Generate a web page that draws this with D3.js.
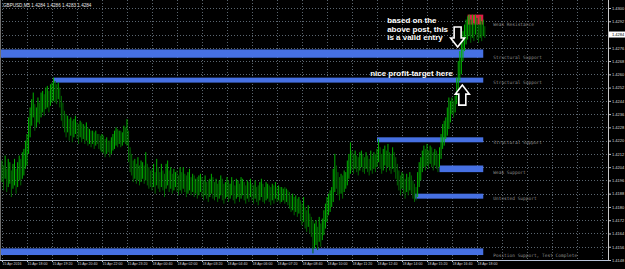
<!DOCTYPE html>
<html>
<head>
<meta charset="utf-8">
<script src="https://cdn.jsdelivr.net/npm/d3@7"></script>
<style>
    html, body { margin: 0; padding: 0; background: #000; }
    #priceChart { width: 625px; height: 269px; }
</style>
</head>
<body>
<div id="priceChart"></div>
<script>
// values (GBPUSD M5, 15-18 Apr 2016)
var symbolTitle = "GBPUSD,M5  1.4284 1.4286 1.4283 1.4284";
var bidPrice = 1.4284;

var timeLabels = ["15 Apr 2016", "15 Apr 18:00", "15 Apr 19:20", "15 Apr 20:40", "15 Apr 22:00",
    "15 Apr 23:20", "18 Apr 00:40", "18 Apr 02:00", "18 Apr 03:20", "18 Apr 04:40", "18 Apr 06:00",
    "18 Apr 07:20", "18 Apr 08:40", "18 Apr 10:00", "18 Apr 11:20", "18 Apr 12:40", "18 Apr 14:00",
    "18 Apr 15:20", "18 Apr 16:40", "18 Apr 18:00"];

var priceTicks = [1.4300, 1.4292, 1.4284, 1.4276, 1.4268, 1.4260, 1.4252, 1.4244, 1.4236, 1.4228,
    1.4220, 1.4212, 1.4204, 1.4196, 1.4188, 1.4180, 1.4172, 1.4164, 1.4156, 1.4148];

// bar lows / highs, one per 5 minute bar
var barLows = [
    1.4195,1.4190,1.4197,1.4189,1.4192,1.4194,1.4186,1.4191,1.4193,1.4188,1.4192,1.4196,1.4193,1.4197,1.4199,1.4203,
    1.4205,1.4212,1.4222,1.4229,1.4234,1.4226,1.4228,1.4231,1.4230,1.4234,1.4237,1.4235,1.4239,
    1.4240,1.4237,1.4241,1.4243,1.4244,1.4243,1.4242,1.4245,1.4240,
    1.4232,1.4228,1.4225,1.4222,1.4225,1.4220,1.4223,1.4219,1.4222,1.4224,
    1.4221,1.4218,1.4222,1.4219,1.4221,1.4218,1.4220,1.4217,1.4218,1.4216,
    1.4218,1.4215,1.4217,1.4218,1.4215,1.4214,1.4213,1.4212,1.4210,1.4212,
    1.4213,1.4210,1.4212,1.4214,1.4215,1.4217,1.4216,1.4218,1.4216,1.4217,
    1.4219,1.4218,1.4217,1.4207,1.4201,1.4199,1.4195,1.4197,1.4194,1.4196,
    1.4193,1.4195,1.4197,1.4194,1.4196,1.4193,1.4191,1.4192,
    1.4190,1.4192,1.4188,1.4193,1.4191,1.4189,1.4192,1.4190,1.4186,1.4191,1.4193,1.4189,1.4191,1.4188,1.4190,1.4192,
    1.4189,1.4187,1.4190,1.4188,1.4191,1.4189,1.4186,1.4188,1.4190,1.4187,1.4189,1.4186,1.4188,1.4185,1.4187,1.4189,
    1.4186,1.4184,1.4187,1.4185,1.4183,1.4186,1.4188,1.4185,1.4184,1.4186,1.4183,1.4185,1.4187,1.4184,1.4182,1.4185,
    1.4186,1.4183,1.4185,1.4187,1.4184,1.4182,1.4185,1.4186,1.4183,1.4185,1.4187,1.4184,1.4182,1.4185,1.4183,1.4186,
    1.4184,1.4182,1.4185,1.4183,1.4181,1.4184,1.4186,1.4183,1.4182,1.4184,1.4185,1.4183,1.4181,1.4184,1.4182,1.4185,
    1.4183,1.4184,1.4182,1.4183,1.4184,1.4182,1.4183,1.4181,1.4179,1.4177,1.4178,1.4175,1.4177,1.4174,1.4176,1.4172,
    1.4169,1.4171,1.4167,1.4165,1.4168,1.4164,1.4162,1.4152,1.4155,1.4157,1.4154,1.4159,1.4156,1.4160,1.4163,1.4167,
    1.4171,1.4175,1.4177,1.4180,1.4183,1.4189,1.4191,1.4187,1.4184,1.4188,1.4185,1.4189,1.4191,1.4193,1.4197,1.4200,
    1.4202,1.4200,1.4203,1.4201,1.4199,1.4202,1.4204,1.4201,1.4200,1.4203,1.4201,1.4199,1.4202,1.4200,1.4203,1.4201,
    1.4204,1.4207,1.4203,1.4200,1.4202,1.4205,1.4201,1.4204,1.4202,1.4200,1.4203,1.4201,1.4197,1.4193,1.4190,1.4187,
    1.4191,1.4188,1.4185,1.4189,1.4187,1.4190,1.4188,1.4185,1.4183,1.4184,1.4186,1.4192,1.4196,1.4201,1.4204,1.4202,
    1.4205,1.4203,1.4206,1.4204,1.4202,1.4205,1.4203,1.4201,1.4204,1.4209,1.4215,1.4217,1.4221,1.4223,1.4227,1.4231,
    1.4236,1.4234,1.4237,1.4242,1.4250,1.4256,1.4260,1.4268,1.4274,1.4278,1.4281,1.4283,1.4279,1.4282,1.4280,1.4284,
    1.4281,1.4279,1.4282,1.4280,1.4283,1.4282
];
var barHighs = [
    1.4208,1.4205,1.4211,1.4203,1.4209,1.4207,1.4202,1.4206,1.4209,1.4203,1.4207,1.4211,1.4209,1.4213,1.4215,1.4220,
    1.4224,1.4234,1.4240,1.4245,1.4249,1.4242,1.4240,1.4246,1.4243,1.4249,1.4250,1.4248,1.4252,
    1.4253,1.4250,1.4254,1.4255,1.4258,1.4256,1.4254,1.4255,1.4252,
    1.4247,1.4243,1.4238,1.4236,1.4235,1.4233,1.4234,1.4232,1.4233,1.4235,
    1.4231,1.4230,1.4232,1.4231,1.4230,1.4229,1.4231,1.4228,1.4227,1.4226,
    1.4226,1.4225,1.4226,1.4224,1.4224,1.4223,1.4224,1.4223,1.4221,1.4222,
    1.4220,1.4220,1.4222,1.4224,1.4226,1.4228,1.4227,1.4226,1.4226,1.4225,
    1.4229,1.4228,1.4233,1.4226,1.4216,1.4212,1.4208,1.4209,1.4206,1.4210,
    1.4205,1.4208,1.4207,1.4205,1.4213,1.4206,1.4204,1.4202,
    1.4203,1.4206,1.4201,1.4209,1.4204,1.4201,1.4206,1.4202,1.4200,1.4206,1.4208,1.4202,1.4204,1.4200,1.4203,1.4201,
    1.4202,1.4199,1.4204,1.4201,1.4204,1.4200,1.4199,1.4201,1.4203,1.4198,1.4200,1.4199,1.4197,1.4198,1.4199,1.4200,
    1.4198,1.4196,1.4199,1.4195,1.4196,1.4197,1.4200,1.4198,1.4195,1.4197,1.4194,1.4196,1.4199,1.4197,1.4194,1.4195,
    1.4198,1.4196,1.4194,1.4198,1.4196,1.4193,1.4197,1.4196,1.4194,1.4198,1.4197,1.4195,1.4193,1.4196,1.4195,1.4197,
    1.4194,1.4193,1.4196,1.4192,1.4193,1.4195,1.4197,1.4194,1.4192,1.4195,1.4194,1.4193,1.4192,1.4194,1.4193,1.4195,
    1.4192,1.4193,1.4192,1.4192,1.4191,1.4192,1.4191,1.4190,1.4189,1.4187,1.4188,1.4186,1.4187,1.4185,1.4186,1.4184,
    1.4182,1.4186,1.4180,1.4178,1.4181,1.4176,1.4174,1.4172,1.4170,1.4172,1.4168,1.4174,1.4170,1.4173,1.4178,1.4182,
    1.4186,1.4188,1.4190,1.4192,1.4203,1.4212,1.4205,1.4201,1.4198,1.4200,1.4199,1.4202,1.4201,1.4208,1.4212,1.4219,
    1.4214,1.4212,1.4214,1.4211,1.4210,1.4213,1.4214,1.4212,1.4210,1.4213,1.4211,1.4209,1.4214,1.4211,1.4213,1.4212,
    1.4215,1.4221,1.4216,1.4212,1.4215,1.4217,1.4214,1.4218,1.4213,1.4212,1.4216,1.4213,1.4210,1.4206,1.4202,1.4199,
    1.4201,1.4200,1.4197,1.4200,1.4198,1.4201,1.4199,1.4196,1.4194,1.4192,1.4201,1.4207,1.4210,1.4214,1.4217,1.4215,
    1.4218,1.4214,1.4217,1.4216,1.4213,1.4215,1.4214,1.4212,1.4216,1.4224,1.4230,1.4232,1.4234,1.4240,1.4246,1.4244,
    1.4246,1.4244,1.4247,1.4258,1.4268,1.4274,1.4280,1.4286,1.4290,1.4293,1.4295,1.4296,1.4293,1.4296,1.4291,1.4296,
    1.4294,1.4290,1.4295,1.4292,1.4293,1.4289
];

// support / resistance rectangles drawn on the chart (bar index from..to)
var zoneNames = ["Structural Support", "Structural Support", "Structural Support", "Weak Support",
    "Untested Support", "Position Support, Test Complete", "Weak Resistance"];
var zoneKinds = ["support", "support", "support", "support", "support", "support", "resistance"];
var zoneStart = [-5, 33, 240, 280, 264, -5, 298];
var zoneEnd = [308, 308, 308, 308, 308, 308, 308];
var zoneLow = [1.4270, 1.4255, 1.4219, 1.4201, 1.4185, 1.4151, 1.4290];
var zoneHigh = [1.4275, 1.4258, 1.4222, 1.4205, 1.4188, 1.4155, 1.4296];

// hand written notes and arrows
var noteBlocks = [
    {lines: ["based on the", "above post, this", "is a valid entry"], bar: 246.5, price: 1.42909},
    {lines: ["nice profit-target here"], bar: 235.6, price: 1.42590}
];
var arrowBars = [291.6, 294.6];
var arrowPrices = [1.42765, 1.42535];
var arrowDirs = ["down", "up"];


function TradeChart() {
    var self = this;
    self.init();
}

/**
 * sets up the svg, scales and clip
 */
TradeChart.prototype.init = function () {
    var self = this;

    self.width = 625;
    self.height = 269;
    self.plotRight = 608;
    self.plotBottom = 260;

    self.svg = d3.select("#priceChart")
        .append("svg")
        .attr("width", self.width)
        .attr("height", self.height)
        .style("display", "block")
        .style("background", "#000");

    // 16 bars (80 min) between time labels, 25px apart
    self.xScale = d3.scaleLinear()
        .domain([0, 16])
        .range([2, 27]);

    self.yScale = d3.scaleLinear()
        .domain([1.4148, 1.4300])
        .range([260, 8]);

    self.svg.append("clipPath")
        .attr("id", "plotClip")
        .append("rect")
        .attr("x", 0)
        .attr("y", 0)
        .attr("width", self.plotRight)
        .attr("height", self.plotBottom);
};

TradeChart.prototype.update = function () {
    var self = this;
    var x = self.xScale, y = self.yScale;

    //grid
    var grid = self.svg.append("g").attr("class", "grid");
    var gridBars = d3.range(0, 400, 16).filter(function (d) { return x(d) < self.plotRight; });

    grid.selectAll("line.hgrid")
        .data(priceTicks)
        .enter()
        .append("line")
        .attr("class", "hgrid")
        .attr("x1", 0)
        .attr("x2", self.plotRight)
        .attr("y1", function (d) { return Math.round(y(d)) + 0.5; })
        .attr("y2", function (d) { return Math.round(y(d)) + 0.5; })
        .attr("stroke", "#5b6670")
        .attr("stroke-dasharray", "1,2");

    grid.selectAll("line.vgrid")
        .data(gridBars)
        .enter()
        .append("line")
        .attr("class", "vgrid")
        .attr("x1", function (d) { return Math.round(x(d)) + 0.5; })
        .attr("x2", function (d) { return Math.round(x(d)) + 0.5; })
        .attr("y1", 0)
        .attr("y2", self.plotBottom)
        .attr("stroke", "#5b6670")
        .attr("stroke-dasharray", "1,2");

    var plot = self.svg.append("g").attr("clip-path", "url(#plotClip)");

    //zones
    var zoneIdx = d3.range(zoneNames.length);
    plot.selectAll("rect.zone")
        .data(zoneIdx)
        .enter()
        .append("rect")
        .attr("class", "zone")
        .attr("x", function (i) { return Math.max(0, x(zoneStart[i])); })
        .attr("width", function (i) { return x(zoneEnd[i]) - Math.max(0, x(zoneStart[i])); })
        .attr("y", function (i) { return y(zoneHigh[i]); })
        .attr("height", function (i) { return y(zoneLow[i]) - y(zoneHigh[i]); })
        .attr("fill", function (i) { return zoneKinds[i] === "resistance" ? "#dc1f47" : "#4670e2"; });

    //price bars
    plot.selectAll("line.bar")
        .data(barLows)
        .enter()
        .append("line")
        .attr("class", "bar")
        .attr("x1", function (d, i) { return x(i); })
        .attr("x2", function (d, i) { return x(i); })
        .attr("y1", function (d) { return y(d); })
        .attr("y2", function (d, i) { return y(barHighs[i]); })
        .attr("stroke", function (d, i) {
            if (i === 0) return "#009a00";
            var up = (d + barHighs[i]) >= (barLows[i - 1] + barHighs[i - 1]);
            return up ? "#00b000" : "#006800";
        })
        .attr("stroke-width", 1);

    //zone captions
    self.svg.selectAll("text.zoneLabel")
        .data(zoneIdx)
        .enter()
        .append("text")
        .attr("class", "zoneLabel")
        .attr("x", function (i) { return x(zoneEnd[i]) + 10; })
        .attr("y", function (i) { return y(zoneLow[i]) + 1.5; })
        .attr("fill", "#8e8e8e")
        .style("font-family", "'DejaVu Sans Mono', monospace")
        .style("font-size", "4.5px")
        .text(function (i) { return zoneNames[i]; });

    //arrows
    var arrowPath = function (tx, ty, dir) {
        var s = dir === "down" ? -1 : 1;
        var head = 9, len = 20, hw = 7, sw = 3.5;
        return "M" + tx + "," + ty +
            "L" + (tx + hw) + "," + (ty + s * head) +
            "L" + (tx + sw) + "," + (ty + s * head) +
            "L" + (tx + sw) + "," + (ty + s * len) +
            "L" + (tx - sw) + "," + (ty + s * len) +
            "L" + (tx - sw) + "," + (ty + s * head) +
            "L" + (tx - hw) + "," + (ty + s * head) + "Z";
    };
    self.svg.selectAll("path.arrow")
        .data(arrowBars)
        .enter()
        .append("path")
        .attr("class", "arrow")
        .attr("d", function (d, i) { return arrowPath(x(d), y(arrowPrices[i]), arrowDirs[i]); })
        .attr("fill", "#000")
        .attr("stroke", "#fff")
        .attr("stroke-width", 1.6)
        .attr("stroke-linejoin", "miter");

    //notes
    noteBlocks.forEach(function (b) {
        var t = self.svg.append("text")
            .attr("x", x(b.bar))
            .attr("y", y(b.price))
            .attr("fill", "#fff")
            .style("font-family", "'Liberation Sans', Arial, sans-serif")
            .style("font-size", "8px")
            .style("font-weight", "bold");
        b.lines.forEach(function (l, k) {
            t.append("tspan")
                .attr("x", x(b.bar))
                .attr("dy", k === 0 ? 0 : 8.6)
                .text(l);
        });
    });

    //axes
    var yAxis = d3.axisRight(y)
        .tickValues(priceTicks)
        .tickFormat(d3.format(".4f"))
        .tickSize(3)
        .tickSizeOuter(0)
        .tickPadding(1);

    var yAxisG = self.svg.append("g")
        .attr("transform", "translate(" + self.plotRight + ",0)")
        .call(yAxis);
    yAxisG.select(".domain").remove();
    yAxisG.selectAll("line").attr("stroke", "#c8c8c8");
    yAxisG.selectAll("text")
        .attr("fill", "#d8d8d8")
        .style("font-family", "'Liberation Sans', Arial, sans-serif")
        .style("font-size", "4px");

    var xAxis = d3.axisBottom(x)
        .tickValues(d3.range(0, timeLabels.length * 16, 16))
        .tickFormat(function (d, i) { return timeLabels[i]; })
        .tickSize(2)
        .tickSizeOuter(0)
        .tickPadding(1);

    var xAxisG = self.svg.append("g")
        .attr("transform", "translate(0," + self.plotBottom + ")")
        .call(xAxis);
    xAxisG.select(".domain").remove();
    xAxisG.selectAll("line").attr("stroke", "#c8c8c8");
    xAxisG.selectAll("text")
        .attr("text-anchor", "start")
        .attr("fill", "#d8d8d8")
        .style("font-family", "'Liberation Sans', Arial, sans-serif")
        .style("font-size", "3.5px");

    // frame lines
    self.svg.append("line")
        .attr("x1", 0).attr("x2", self.plotRight + 0.5)
        .attr("y1", self.plotBottom + 0.5).attr("y2", self.plotBottom + 0.5)
        .attr("stroke", "#b8c4d8");
    self.svg.append("line")
        .attr("x1", self.plotRight + 0.5).attr("x2", self.plotRight + 0.5)
        .attr("y1", 0).attr("y2", self.plotBottom)
        .attr("stroke", "#c8c8c8");
    self.svg.append("line")
        .attr("x1", 0.5).attr("x2", 0.5)
        .attr("y1", 0).attr("y2", self.plotBottom)
        .attr("stroke", "#707070");

    // bid price tag
    var by = y(bidPrice);
    self.svg.append("rect")
        .attr("x", self.plotRight + 1)
        .attr("y", by - 3)
        .attr("width", self.width - self.plotRight - 1)
        .attr("height", 6)
        .attr("fill", "#fff");
    self.svg.append("text")
        .attr("x", self.plotRight + 4)
        .attr("y", by + 1.4)
        .attr("fill", "#000")
        .style("font-family", "'Liberation Sans', Arial, sans-serif")
        .style("font-size", "4px")
        .text(d3.format(".4f")(bidPrice));

    // symbol title
    self.svg.append("text")
        .attr("x", 3)
        .attr("y", 7)
        .attr("fill", "#e8e8e8")
        .style("font-family", "'Liberation Sans', Arial, sans-serif")
        .style("font-size", "4.6px")
        .text(symbolTitle);
};

var chart = new TradeChart();
chart.update();
</script>
</body>
</html>
